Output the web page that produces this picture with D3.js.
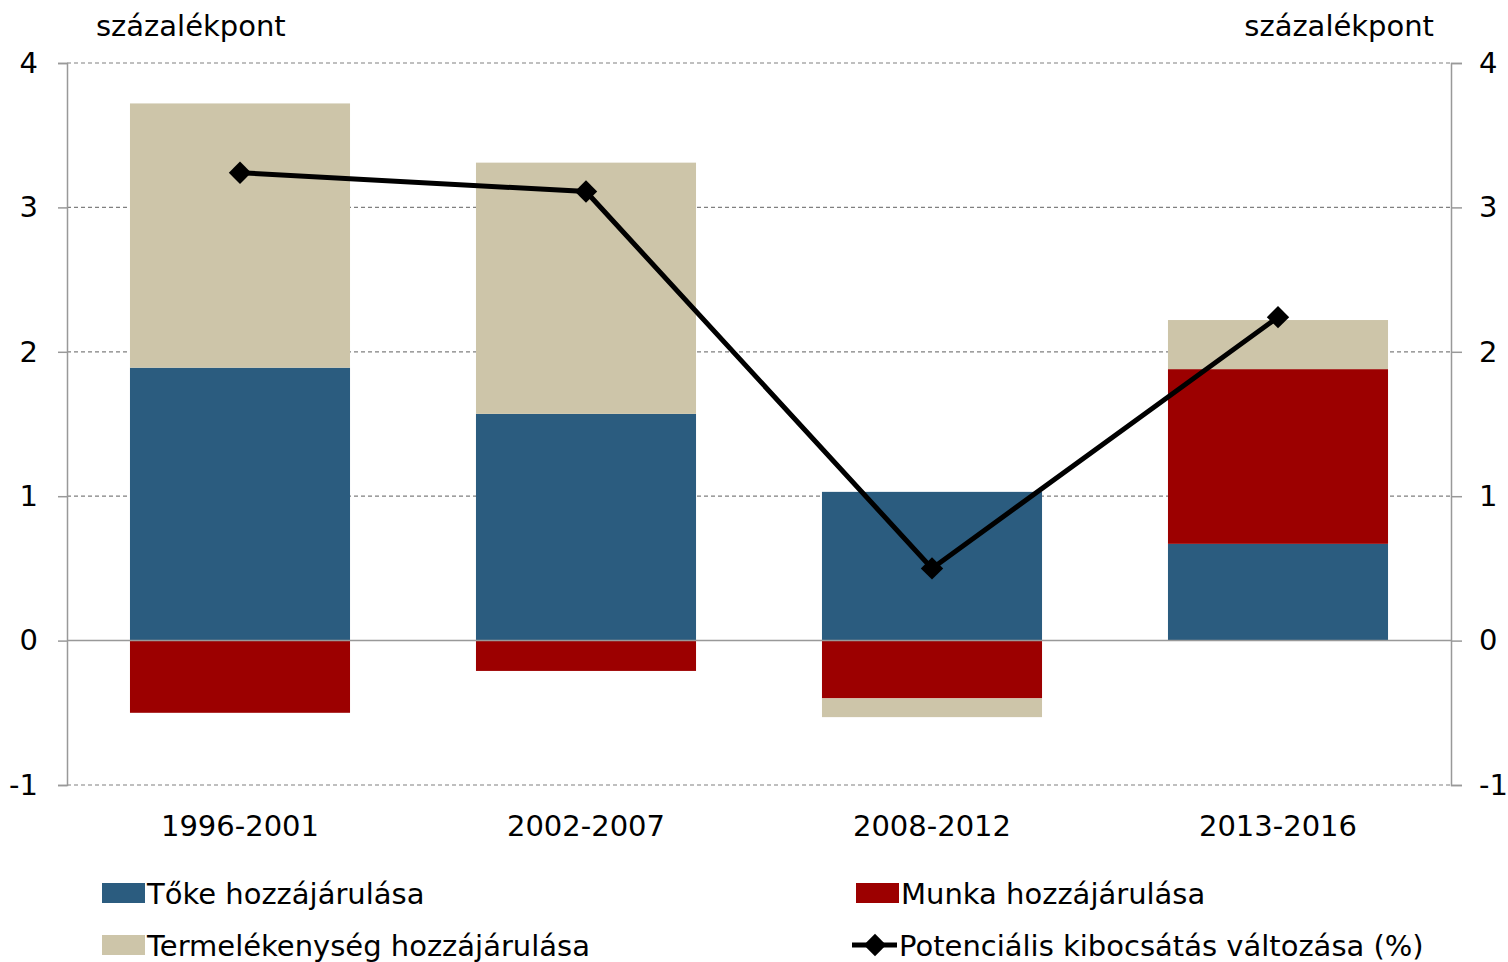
<!DOCTYPE html>
<html>
<head>
<meta charset="utf-8">
<script src="https://cdn.jsdelivr.net/npm/d3@7"></script>
<style>
  body { margin: 0; background: #fff; }
  text { font-family: "DejaVu Sans", sans-serif; fill: #000; }
</style>
</head>
<body>
<svg id="chart" width="1508" height="962"></svg>
<script>
const periods = ["1996-2001", "2002-2007", "2008-2012", "2013-2016"];
const toke = [1.89, 1.57, 1.03, 0.67];
const munka = [-0.5, -0.21, -0.4, 1.21];
const termelekenyseg = [1.83, 1.74, -0.13, 0.34];
const potencialis = [3.24, 3.11, 0.5, 2.24];
const yTicks = [-1, 0, 1, 2, 3, 4];

const seriesNames = ["Tőke hozzájárulása", "Munka hozzájárulása", "Termelékenység hozzájárulása"];
const colors = ["#2b5c7f", "#9c0000", "#cdc5a9"];
const lineName = "Potenciális kibocsátás változása (%)";

const svg = d3.select("#chart");
const plotL = 67, plotR = 1451, plotT = 63, plotB = 785;

const x = d3.scaleBand().domain(periods).range([plotL, plotR]).paddingInner(0.364).paddingOuter(0.182);
const y = d3.scaleLinear().domain([-1, 4]).range([plotB, plotT]);

// gridlines
svg.append("g").selectAll("line")
  .data(yTicks.filter(d => d !== 0))
  .enter().append("line")
  .attr("x1", plotL).attr("x2", plotR)
  .attr("y1", d => y(d)).attr("y2", d => y(d))
  .attr("stroke", "#808080").attr("stroke-width", 1.2)
  .attr("stroke-dasharray", "4,3");

// stacked bars (positive and negative stacked separately)
const rows = periods.map((p, i) => ({ p, vals: [toke[i], munka[i], termelekenyseg[i]] }));
rows.forEach(r => {
  let pos = 0, neg = 0;
  r.vals.forEach((v, k) => {
    let y0, y1;
    if (v >= 0) { y0 = pos; y1 = pos + v; pos = y1; }
    else { y0 = neg; y1 = neg + v; neg = y1; }
    svg.append("rect")
      .attr("x", x(r.p))
      .attr("width", x.bandwidth())
      .attr("y", y(Math.max(y0, y1)))
      .attr("height", Math.abs(y(y0) - y(y1)))
      .attr("fill", colors[k]);
  });
});

// axes
const fmt = d => String(d);
const axisL = d3.axisLeft(y).tickValues(yTicks).tickSize(9).tickPadding(20).tickFormat(fmt);
const axisR = d3.axisRight(y).tickValues(yTicks).tickSize(11).tickPadding(17).tickFormat(fmt);
[svg.append("g").attr("transform", `translate(${plotL},0)`).call(axisL),
 svg.append("g").attr("transform", `translate(${plotR},0)`).call(axisR)].forEach(g => {
  g.select(".domain").attr("stroke", "#999").attr("stroke-width", 1.5);
  g.selectAll(".tick line").attr("stroke", "#999").attr("stroke-width", 1.5);
  g.selectAll(".tick text").attr("font-size", 29).attr("font-family", "DejaVu Sans").attr("fill", "#000");
});

// zero line
svg.append("line")
  .attr("x1", plotL).attr("x2", plotR)
  .attr("y1", y(0)).attr("y2", y(0))
  .attr("stroke", "#999").attr("stroke-width", 1.5);

// category labels
svg.append("g").selectAll("text")
  .data(periods).enter().append("text")
  .attr("x", d => x(d) + x.bandwidth() / 2)
  .attr("y", 836)
  .attr("text-anchor", "middle")
  .attr("font-size", 29)
  .text(d => d);

// line
const cx = d => x(d) + x.bandwidth() / 2;
svg.append("path")
  .datum(periods.map((p, i) => [cx(p), y(potencialis[i])]))
  .attr("d", d3.line())
  .attr("fill", "none").attr("stroke", "#000").attr("stroke-width", 5);

const diamond = d3.symbol().type(d3.symbolDiamond2).size(320);
svg.append("g").selectAll("path")
  .data(potencialis).enter().append("path")
  .attr("transform", (d, i) => `translate(${cx(periods[i])},${y(d)})`)
  .attr("d", diamond)
  .attr("fill", "#000");

// unit labels
svg.append("text").attr("x", 96).attr("y", 36).attr("font-size", 29).text("százalékpont");
svg.append("text").attr("x", 1434).attr("y", 36).attr("text-anchor", "end").attr("font-size", 29).text("százalékpont");

// legend
const legendItems = [
  { name: seriesNames[0], color: colors[0], x: 102, y: 893 },
  { name: seriesNames[1], color: colors[1], x: 856, y: 893 },
  { name: seriesNames[2], color: colors[2], x: 102, y: 945 }
];
legendItems.forEach(it => {
  svg.append("rect").attr("x", it.x).attr("y", it.y - 10).attr("width", 43).attr("height", 20).attr("fill", it.color);
  svg.append("text").attr("x", it.x + 45).attr("y", it.y + 11).attr("font-size", 29).text(it.name);
});
svg.append("line").attr("x1", 852).attr("x2", 897).attr("y1", 945).attr("y2", 945)
  .attr("stroke", "#000").attr("stroke-width", 5);
svg.append("path").attr("transform", "translate(875,945)").attr("d", diamond).attr("fill", "#000");
svg.append("text").attr("x", 899).attr("y", 956).attr("font-size", 29).text(lineName);
</script>
</body>
</html>
